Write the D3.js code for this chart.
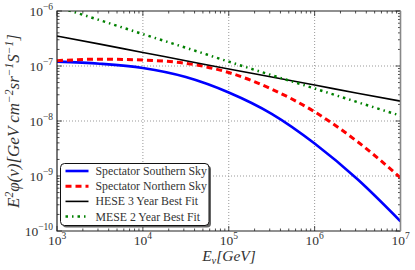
<!DOCTYPE html>
<html>
<head>
<meta charset="utf-8">
<script src="https://cdn.jsdelivr.net/npm/d3@7"></script>
<style>
  body { margin: 0; background: #fff; }
</style>
</head>
<body>
<div id="chart"></div>
<script>
const energies = [1e3, 3.16e3, 1e4, 3.16e4, 1e5, 3.16e5, 1e6, 3.16e6, 1e7];

// E^2 phi values
const southern = [1.2e-7, 1.1e-7, 9.2e-8, 6.3e-8, 3.3e-8, 1.35e-8, 3.9e-9, 8.7e-10, 1.5e-10];
const northern = [1.25e-7, 1.33e-7, 1.28e-7, 1.12e-7, 7.6e-8, 3.8e-8, 1.47e-8, 4.2e-9, 9.3e-10];
const hese = [3.5e-7, 2.5e-7, 1.76e-7, 1.25e-7, 8.8e-8, 6.3e-8, 4.5e-8, 3.2e-8, 2.3e-8];
const mese = [1.2e-6, 6.8e-7, 3.8e-7, 2.15e-7, 1.2e-7, 6.8e-8, 3.9e-8, 2.2e-8, 1.25e-8];

const xTicks = [1e3, 1e4, 1e5, 1e6, 1e7];
const yTicks = [1e-10, 1e-9, 1e-8, 1e-7, 1e-6];

const series = [
    { name: "Spectator Southern Sky", values: southern, color: "#0000ff", width: 2.6, dash: null },
    { name: "Spectator Northern Sky", values: northern, color: "#ff0000", width: 3, dash: "6,4" },
    { name: "HESE 3 Year Best Fit", values: hese, color: "#000000", width: 1.6, dash: null },
    { name: "MESE 2 Year Best Fit", values: mese, color: "#008000", width: 2.5, dash: "2.5,4,1.5,4" }
];

const FONT = "'Liberation Serif', 'DejaVu Serif', serif";
const W = 415, H = 270;
const margin = { top: 11, left: 57, right: 14.5, bottom: 39 };
const innerW = W - margin.left - margin.right;
const innerH = H - margin.top - margin.bottom;

const svg = d3.select("#chart").append("svg")
    .attr("width", W).attr("height", H)
    .attr("font-family", FONT);

const g = svg.append("g")
    .attr("transform", `translate(${margin.left},${margin.top})`);

const x = d3.scaleLog().domain([1e3, 1e7]).range([0, innerW]);
const y = d3.scaleLog().domain([1e-10, 1e-6]).range([innerH, 0]);

// dotted grid at the decades
g.selectAll("line.gx").data(xTicks.slice(1, -1)).join("line")
    .attr("class", "gx")
    .attr("x1", d => x(d)).attr("x2", d => x(d))
    .attr("y1", 0).attr("y2", innerH)
    .attr("stroke", "#999").attr("stroke-width", 1).attr("stroke-dasharray", "1,2");
g.selectAll("line.gy").data(yTicks.slice(1, -1)).join("line")
    .attr("class", "gy")
    .attr("y1", d => y(d)).attr("y2", d => y(d))
    .attr("x1", 0).attr("x2", innerW)
    .attr("stroke", "#999").attr("stroke-width", 1).attr("stroke-dasharray", "1,2");

// minor + major ticks, pointing inward on all four sides
const xMinor = x.ticks().filter(d => !xTicks.includes(d));
const yMinor = y.ticks().filter(d => !yTicks.some(t => Math.abs(t - d) / t < 1e-6));

function tickSet(cls, data, len, side) {
    g.selectAll("line." + cls).data(data).join("line")
        .attr("class", cls)
        .attr("x1", d => side === "b" || side === "t" ? x(d) : (side === "l" ? 0 : innerW))
        .attr("x2", d => side === "b" || side === "t" ? x(d) : (side === "l" ? len : innerW - len))
        .attr("y1", d => side === "l" || side === "r" ? y(d) : (side === "b" ? innerH : 0))
        .attr("y2", d => side === "l" || side === "r" ? y(d) : (side === "b" ? innerH - len : len))
        .attr("stroke", "#222").attr("stroke-width", 0.8);
}
tickSet("mxb", xTicks, 5, "b");
tickSet("mxt", xTicks, 5, "t");
tickSet("nxb", xMinor, 2.5, "b");
tickSet("nxt", xMinor, 2.5, "t");
tickSet("myl", yTicks, 5, "l");
tickSet("myr", yTicks, 5, "r");
tickSet("nyl", yMinor, 2.5, "l");
tickSet("nyr", yMinor, 2.5, "r");

// curves
g.append("clipPath").attr("id", "clip")
    .append("rect").attr("width", innerW).attr("height", innerH);

const line = d3.line()
    .x((d, i) => x(energies[i]))
    .y(d => y(d))
    .curve(d3.curveMonotoneX);

g.append("g").attr("clip-path", "url(#clip)")
    .selectAll("path.curve").data(series).join("path")
    .attr("class", "curve")
    .attr("d", d => line(d.values))
    .attr("fill", "none")
    .attr("stroke", d => d.color)
    .attr("stroke-width", d => d.width)
    .attr("stroke-dasharray", d => d.dash);

// frame
g.append("path")
    .attr("d", `M${innerW},0H0V${innerH}H${innerW}`)
    .attr("fill", "none").attr("stroke", "#222").attr("stroke-width", 1.2);
g.append("line")
    .attr("x1", innerW).attr("x2", innerW).attr("y1", 0).attr("y2", innerH)
    .attr("stroke", "#888").attr("stroke-width", 1.6);

// tick labels
function powLabel(sel, exp) {
    sel.append("tspan").text("10");
    sel.append("tspan").attr("dy", -6).attr("font-size", 9.5).text(exp);
}
xTicks.forEach(t => {
    const txt = g.append("text")
        .attr("x", x(t)).attr("y", innerH + 14)
        .attr("text-anchor", "middle").attr("font-size", 13.5).attr("fill", "#333");
    powLabel(txt, Math.round(Math.log10(t)));
});
yTicks.forEach(t => {
    const e = Math.round(Math.log10(t));
    const txt = g.append("text")
        .attr("x", -4).attr("y", y(t) + 4.5)
        .attr("text-anchor", "end").attr("font-size", 13.5).attr("fill", "#333");
    powLabel(txt, "\u2212" + (-e));
});

// axis labels
const xl = svg.append("text")
    .attr("x", 229).attr("y", 261)
    .attr("text-anchor", "middle").attr("font-size", 15.5)
    .attr("font-style", "italic").attr("fill", "#333");
xl.append("tspan").text("E");
xl.append("tspan").attr("dy", 3).attr("font-size", 10.5).text("\u03bd");
xl.append("tspan").attr("dy", -3).text("[GeV]");

const yl = svg.append("text")
    .attr("transform", `translate(19,${margin.top + innerH / 2}) rotate(-90)`)
    .attr("text-anchor", "middle").attr("font-size", 17)
    .attr("font-style", "italic").attr("fill", "#333");
yl.append("tspan").text("E");
yl.append("tspan").attr("dy", -6).attr("font-size", 11.5).text("2");
yl.append("tspan").attr("dy", 6).text("\u03c6(\u03bd)[GeV cm");
yl.append("tspan").attr("dy", -6).attr("font-size", 11.5).text("\u22122");
yl.append("tspan").attr("dy", 6).text("sr");
yl.append("tspan").attr("dy", -6).attr("font-size", 11.5).text("\u22121");
yl.append("tspan").attr("dy", 6).text("S");
yl.append("tspan").attr("dy", -6).attr("font-size", 11.5).text("\u22121");
yl.append("tspan").attr("dy", 6).text("]");

// legend
const lg = svg.append("g").attr("transform", "translate(60.5,163.5)");
lg.append("rect")
    .attr("x", 2).attr("y", 2).attr("width", 148.5).attr("height", 62).attr("rx", 4)
    .attr("fill", "#666");
lg.append("rect")
    .attr("width", 148.5).attr("height", 62).attr("rx", 4)
    .attr("fill", "#fff").attr("stroke", "#111").attr("stroke-width", 1);
const items = lg.selectAll("g.item").data(series).join("g")
    .attr("class", "item")
    .attr("transform", (d, i) => `translate(0,${7.5 + i * 15.2})`);
items.append("line")
    .attr("x1", 5).attr("x2", 28).attr("y1", 0).attr("y2", 0)
    .attr("stroke", d => d.color)
    .attr("stroke-width", d => d.width)
    .attr("stroke-dasharray", d => d.dash);
items.append("text")
    .attr("x", 35).attr("y", 4)
    .attr("font-size", 11.8).attr("fill", "#333")
    .text(d => d.name);
</script>
</body>
</html>
